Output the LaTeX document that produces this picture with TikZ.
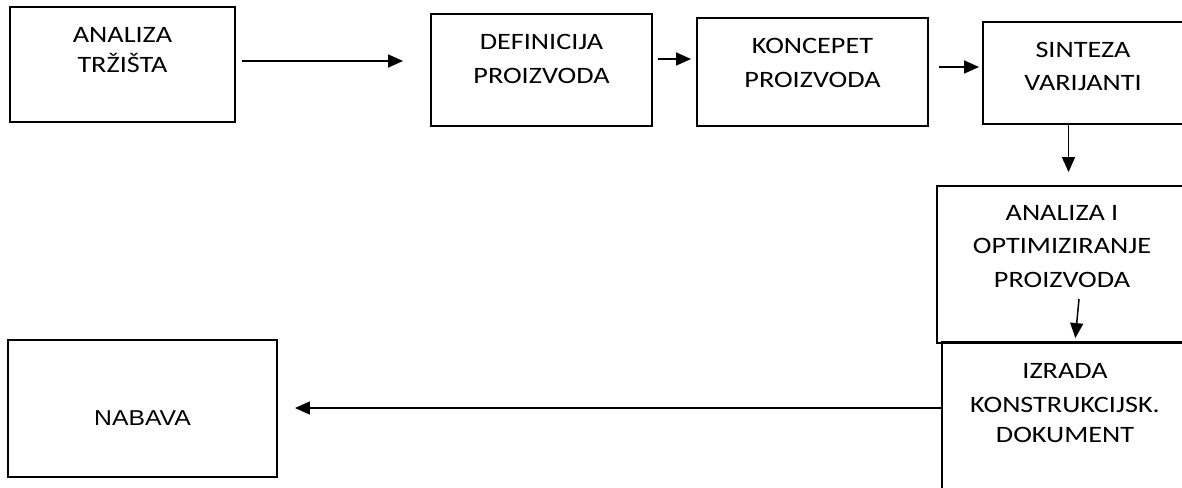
\documentclass[tikz,border=0pt]{standalone}
\usepackage{fontspec}
\usetikzlibrary{arrows.meta}
\newfontfamily\calfont[FakeStretch=1.2]{Carlito}
\newfontfamily\arfont[FakeStretch=1.15]{Liberation Sans}
\tikzset{
  box/.style={draw=black, line width=1.9pt, rectangle, inner sep=0pt, minimum width=#1},
  lbl/.style={anchor=base, inner sep=0pt, text=black, font=\calfont\fontsize{23.5}{32}\selectfont},
  lblar/.style={anchor=base, inner sep=0pt, text=black, font=\arfont\fontsize{21.5}{28}\selectfont},
  arr/.style={draw=black, line width=1.5pt, -{Triangle[length=15pt,width=13pt]}},
}
\begin{document}
\begin{tikzpicture}[x=1pt,y=-1pt]
\useasboundingbox (0,0) rectangle (1182,487);
% boxes (image pixel coordinates, y downwards)
\node[box=225pt, minimum height=115pt] (b1) at (122.5,64.5) {};
\node[box=221pt, minimum height=112pt] (b2) at (541.5,70) {};
\node[box=231pt, minimum height=108pt] (b3) at (812.5,72) {};
\node[box=201pt, minimum height=102pt] (b4) at (1083.5,73) {};
\node[box=250pt, minimum height=157pt] (b5) at (1062,264.5) {};
\node[box=246pt, minimum height=170pt] (b6) at (1065,427) {};
\node[box=269pt, minimum height=137pt] (b7) at (142.5,408.5) {};
% texts
\node[lbl] (t1a) at (122.5,42) {ANALIZA};
\node[lbl] (t1b) at (122.5,72) {TRŽIŠTA};
\node[lbl] (t2a) at (541.5,49.5) {DEFINICIJA};
\node[lbl] (t2b) at (541.5,83) {PROIZVODA};
\node[lbl] (t3a) at (812.5,53) {KONCEPET};
\node[lbl] (t3b) at (812.5,87.5) {PROIZVODA};
\node[lbl] (t4a) at (1083,57) {SINTEZA};
\node[lbl] (t4b) at (1083,90) {VARIJANTI};
\node[lbl] (t5a) at (1062,220) {ANALIZA I};
\node[lbl] (t5b) at (1062,253) {OPTIMIZIRANJE};
\node[lbl] (t5c) at (1062,287) {PROIZVODA};
\node[lbl] (t6a) at (1065,378) {IZRADA};
\node[lbl] (t6b) at (1065,412) {KONSTRUKCIJSK.};
\node[lbl] (t6c) at (1065,442) {DOKUMENT};
\node[lblar] (t7) at (142.5,425.5) {NABAVA};
% connectors
\coordinate (a5s) at (1079,299);
\draw[arr, shorten <=6pt, shorten >=27pt] (b1.east |- 0,61) -- (b2.west |- 0,61);
\draw[arr, shorten <=5pt, shorten >=5pt] (b2.east |- 0,59) -- (b3.west |- 0,59);
\draw[arr, shorten <=10pt, shorten >=3pt] (b3.east |- 0,67) -- (b4.west |- 0,67);
\draw[arr, shorten >=13pt] (b4.south -| 1068.5,0) -- (b5.north -| 1068.5,0);
\draw[arr, shorten >=3pt] (a5s) -- (b6.north -| 1075,0);
\draw[arr, shorten >=17pt] (b6.west |- 0,408) -- (b7.east |- 0,408);
\end{tikzpicture}
\end{document}
